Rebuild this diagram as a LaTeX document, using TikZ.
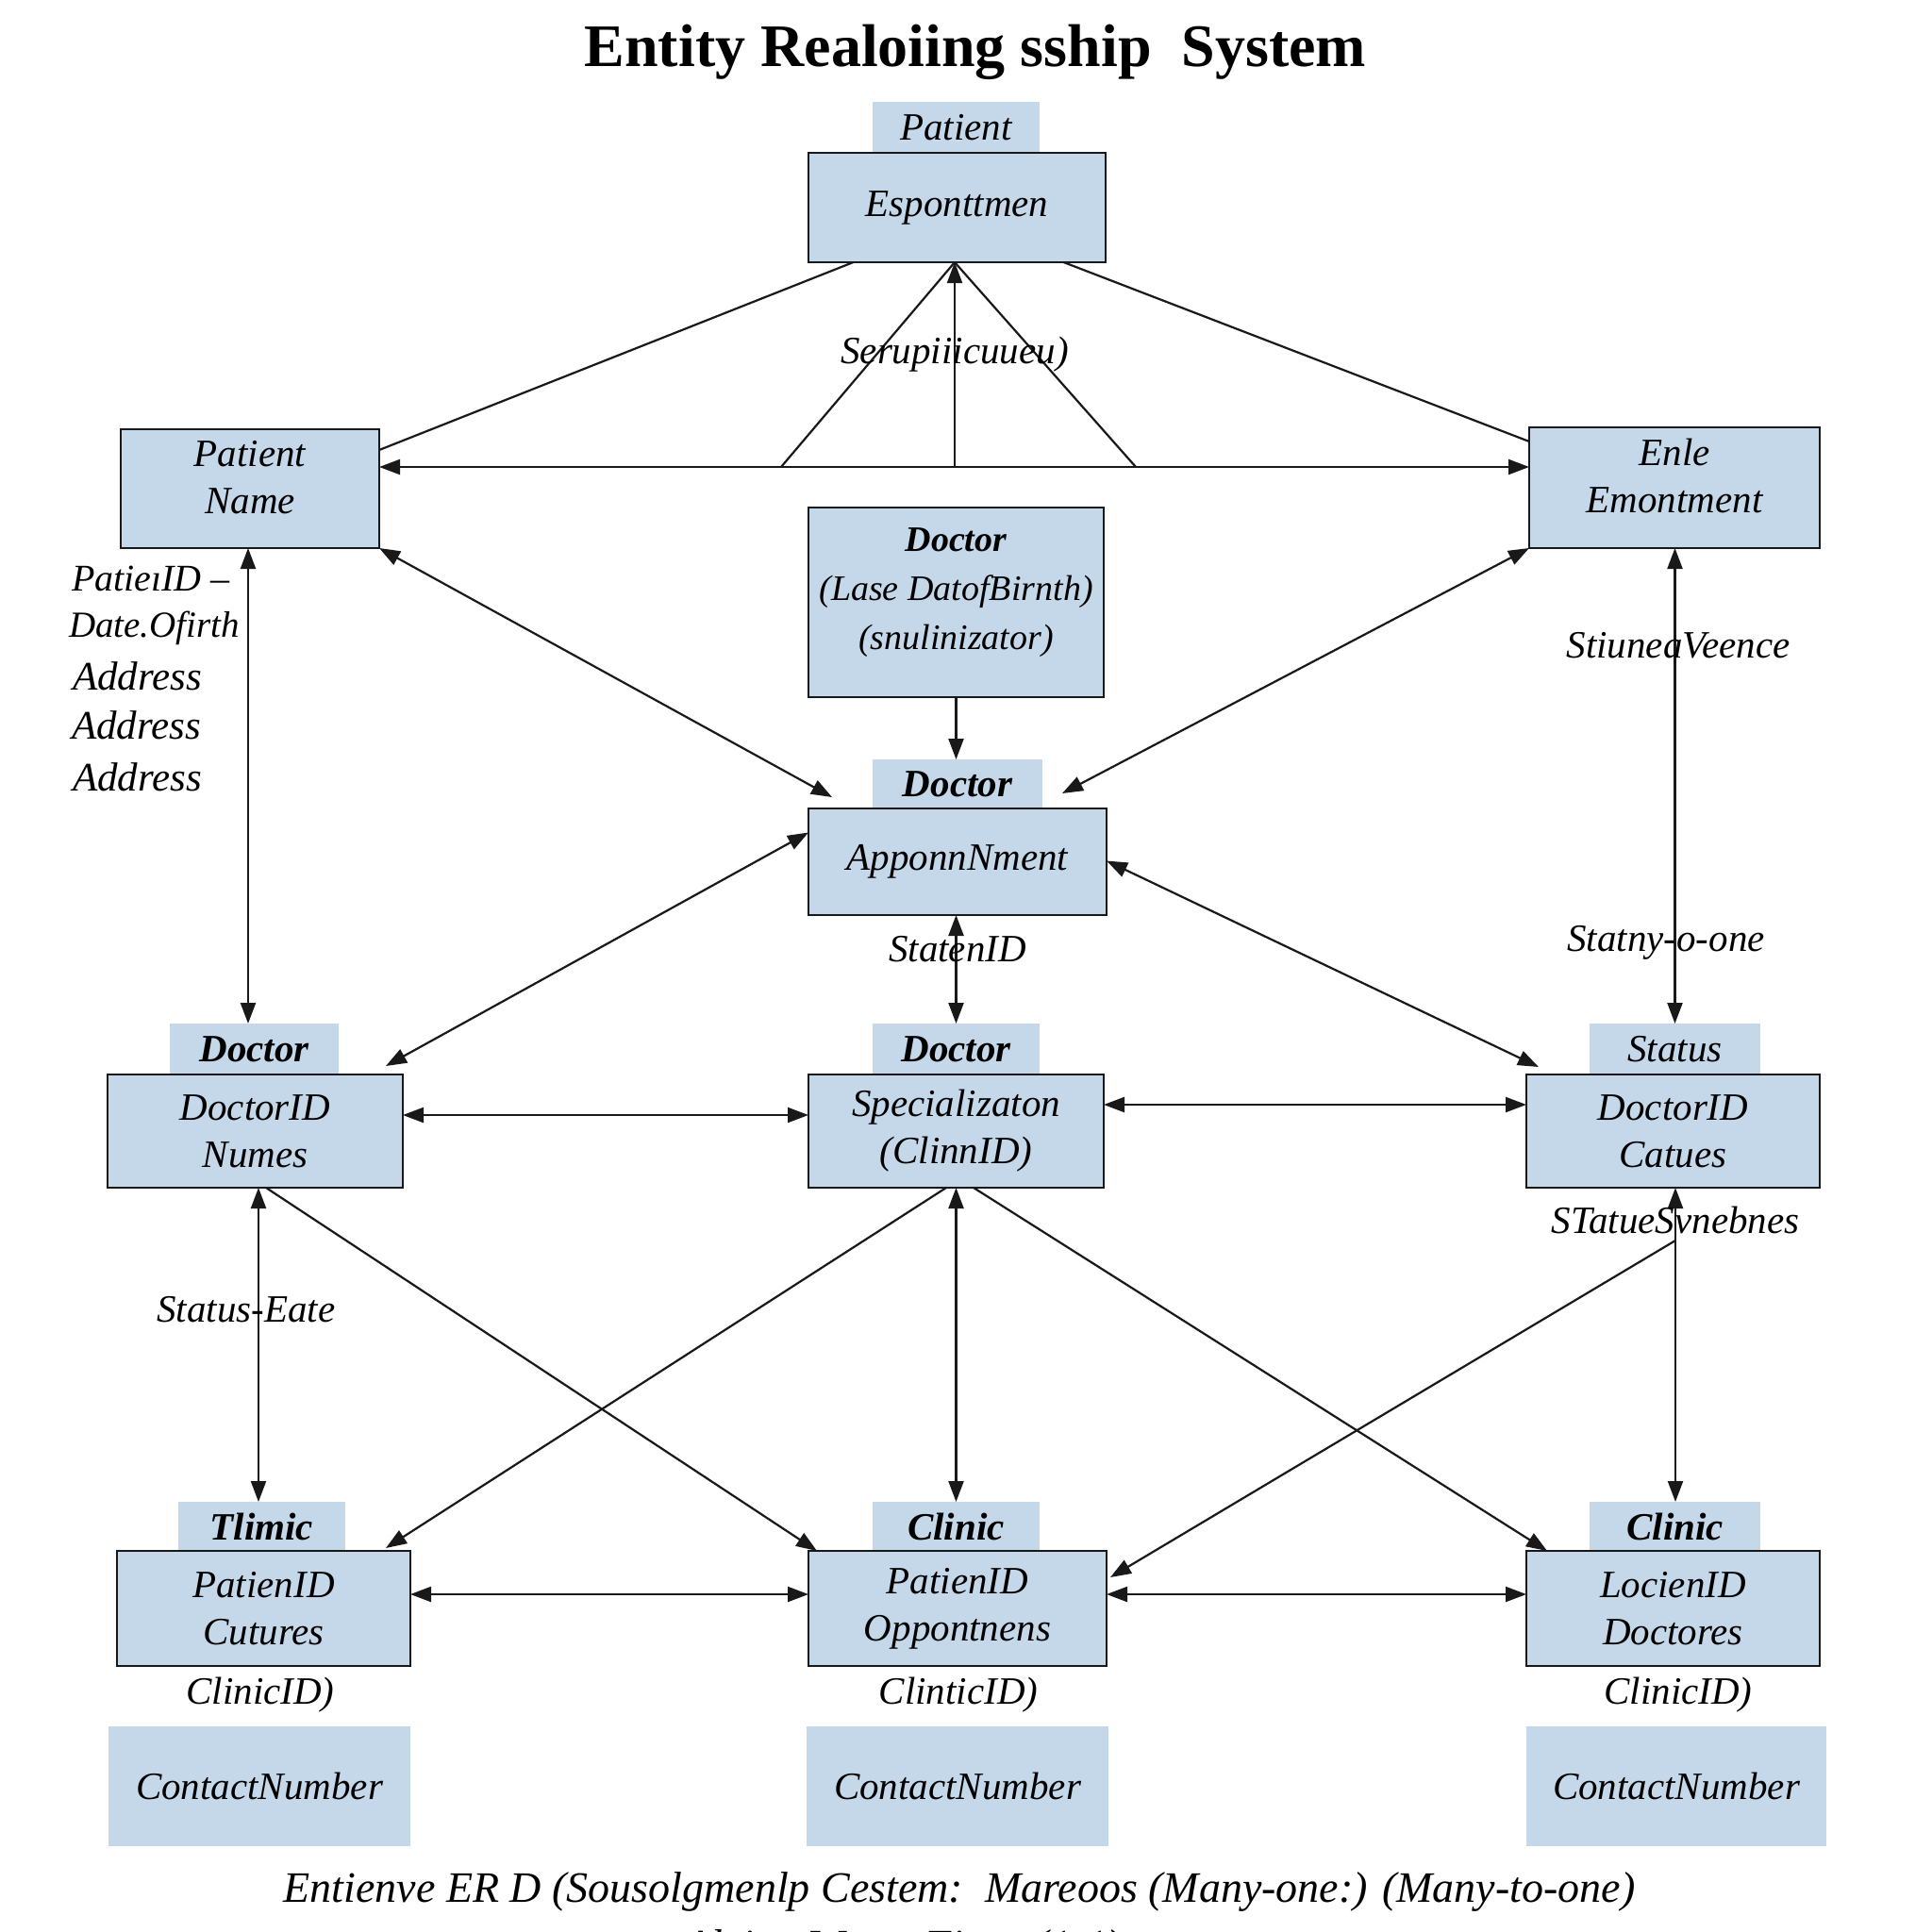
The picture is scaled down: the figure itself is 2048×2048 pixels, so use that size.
\documentclass[tikz,border=0pt]{standalone}
\usepackage{fontspec}
\setmainfont{Liberation Serif}
\usetikzlibrary{arrows.meta,calc}
\definecolor{boxblue}{RGB}{196,216,234}
\definecolor{edgecol}{RGB}{25,25,25}
\newcommand{\myit}{\fontsize{41}{50}\selectfont\itshape}
\newcommand{\uplines}[2]{\raisebox{#1}[\height][\depth]{\begin{tabular}{@{}c@{}}#2\end{tabular}}}
\begin{document}
\begin{tikzpicture}[x=1pt,y=-1pt,
  every node/.style={inner sep=0pt, outer sep=0pt},
  ent/.style={draw=edgecol, line width=2pt, fill=boxblue, align=center, font=\myit},
  tabbox/.style={fill=boxblue, align=center, font=\myit},
  lbl/.style={font=\myit, align=center},
  attr/.style={font=\fontsize{43}{50}\selectfont\itshape, anchor=west},
  con/.style={line width=2.2pt, draw=edgecol},
  bi/.style={con, {Triangle[length=22pt,width=16pt]}-{Triangle[length=22pt,width=16pt]}},
  uni/.style={con, -{Triangle[length=22pt,width=16pt]}},
]
\fill[white] (0,0) rectangle (2048,2048);
\clip (0,0) rectangle (2048,2048);

% title
\node[font=\fontsize{64}{72}\selectfont\bfseries] (title) at (1034,55) {Entity Realoiing sship\ \ System};

% tabs
\node[tabbox, minimum width=177pt, minimum height=54pt] (Atab) at (1013.5,135) {Patient};
\node[tabbox, minimum width=180pt, minimum height=52pt] (Etab) at (1015,831) {\bfseries Doctor};
\node[tabbox, minimum width=179pt, minimum height=54pt] (Ftab) at (269.5,1112) {\bfseries Doctor};
\node[tabbox, minimum width=177pt, minimum height=54pt] (Gtab) at (1013.5,1112) {\bfseries Doctor};
\node[tabbox, minimum width=181pt, minimum height=54pt] (Htab) at (1775.5,1112) {Status};
\node[tabbox, minimum width=177pt, minimum height=52pt] (Itab) at (277.5,1618) {\bfseries Tlimic};
\node[tabbox, minimum width=177pt, minimum height=52pt] (Jtab) at (1013.5,1618) {\bfseries Clinic};
\node[tabbox, minimum width=181pt, minimum height=52pt] (Ktab) at (1775.5,1618) {\bfseries Clinic};

% entity boxes
\node[ent, minimum width=315pt, minimum height=116pt] (A) at (1014.5,220) {Esponttmen};
\node[ent, minimum width=274pt, minimum height=126pt] (B) at (265,518) {\uplines{9pt}{Patient\\Name}};
\node[ent, minimum width=308pt, minimum height=128pt] (C) at (1775,517) {\uplines{9pt}{Enle\\Emontment}};
\node[ent, minimum width=313pt, minimum height=201pt, font=\fontsize{38}{52}\selectfont\itshape] (D) at (1013.5,638.5) {\uplines{12pt}{\textbf{Doctor}\\(Lase DatofBirnth)\\(snulinizator)}};
\node[ent, minimum width=316pt, minimum height=113pt] (E) at (1015,913.5) {ApponnNment};
\node[ent, minimum width=313pt, minimum height=120pt] (F) at (270.5,1199) {DoctorID\\Numes};
\node[ent, minimum width=313pt, minimum height=120pt] (G) at (1013.5,1199) {Specializaton\\(ClinnID)};
\node[ent, minimum width=311pt, minimum height=120pt] (H) at (1773.5,1199) {DoctorID\\Catues};
\node[ent, minimum width=311pt, minimum height=122pt] (I) at (279.5,1705) {PatienID\\Cutures};
\node[ent, minimum width=316pt, minimum height=122pt] (J) at (1015,1705) {PatienID\\Oppontnens};
\node[ent, minimum width=311pt, minimum height=122pt] (K) at (1773.5,1705) {LocienID\\Doctores};

% contact number boxes
\node[tabbox, minimum width=320pt, minimum height=127pt] (L1) at (275,1893.5) {ContactNumber};
\node[tabbox, minimum width=320pt, minimum height=127pt] (L2) at (1015,1893.5) {ContactNumber};
\node[tabbox, minimum width=318pt, minimum height=127pt] (L3) at (1777,1893.5) {ContactNumber};

\node[lbl] (c1) at (276,1797) {ClinicID)};
\node[lbl] (c2) at (1016,1797) {ClinticID)};
\node[lbl] (c3) at (1779,1797) {ClinicID)};

% connectors, top
\draw[con] ([xshift=-110pt]A.south) -- ([yshift=41pt]B.east);
\draw[con] ([xshift=113pt]A.south) -- ([yshift=49pt]C.west);
\draw[bi] ([yshift=23pt]B.east) -- ([yshift=22pt]C.west);
\coordinate (apex) at ([xshift=-2.5pt]A.south);
\coordinate (tL) at (828,495);
\coordinate (tR) at (1204,495);
\coordinate (tM) at (1012,495);
\draw[con] (apex) -- (tL);
\draw[con] (apex) -- (tR);
\draw[uni] (tM) -- (apex);
\draw[bi] (B.south east) -- ([shift={(25pt,12pt)}]E.north west);
\draw[bi] (C.south west) -- ([shift={(-47pt,16pt)}]E.north east);
\draw[uni] (D.south) -- ([xshift=-1.5pt]Etab.north);
\draw[bi] ([xshift=-2pt]B.south) -- ([xshift=-6.5pt]Ftab.north);
\draw[bi] ([xshift=0.5pt]C.south) -- (Htab.north);

% middle
\draw[bi] ([yshift=31pt]E.west) -- ([shift={(-18pt,9pt)}]F.north east);
\draw[bi] ([yshift=1pt]E.east) -- ([shift={(13pt,8pt)}]H.north west);
\draw[bi] ([xshift=-1.5pt]E.south) -- (Gtab.north);
\draw[bi] ([yshift=17pt]F.east) -- ([yshift=17pt]G.west);
\draw[bi] ([yshift=28pt]G.east) -- ([yshift=28pt]H.west);

% lower
\draw[bi] ([xshift=3.5pt]F.south) -- ([xshift=-3.5pt]Itab.north);
\draw[uni] ([xshift=11.5pt]F.south) -- ([xshift=9pt]J.north west);
\draw[uni] ([xshift=-10.5pt]G.south) -- ([shift={(-26pt,3pt)}]I.north east);
\draw[bi] (G.south) -- (Jtab.north);
\draw[uni] ([xshift=18.5pt]G.south) -- ([xshift=22pt]K.north west);
\draw[bi] ([xshift=2.5pt]H.south) -- ([xshift=0.5pt]Ktab.north);
\coordinate (hsplit) at ([shift={(2.5pt,-56pt)}]H.south);
\draw[uni] (hsplit) -- ([shift={(4pt,33pt)}]J.east);
\draw[bi] ([yshift=15pt]I.east) -- ([yshift=15pt]J.west);
\draw[bi] ([yshift=15pt]J.east) -- ([yshift=15pt]K.west);

% labels
\node[lbl] (l1) at (1012,376) {Serupiiicuueu)};
\node[lbl] (l2) at (1015,1006) {StatenID};
\node[lbl] (l3) at (1779,684) {StiuneaVeence};
\node[lbl] (l4) at (1766,999) {Statny-o-one};
\node[lbl] (l5) at (1776,1293) {STatueSvnebnes};
\node[lbl] (l6) at (261,1388) {Status-Eate};

% attribute list
\node[attr, font=\fontsize{40}{50}\selectfont\itshape] (p1) at (76,613) {PatieıID –};
\node[attr, font=\fontsize{39}{50}\selectfont\itshape] (p2) at (73,666) {Date.Ofirth};
\node[attr] (p3) at (77,717) {Address};
\node[attr] (p4) at (76,769) {Address};
\node[attr] (p5) at (77,824) {Address};

% caption
\node[lbl, font=\fontsize{46}{52}\selectfont\itshape] (cap) at (1017,2005) {Entienve ER D (Sousolgmenlp Cestem:\ \ Mareoos (Many-one:) (Many-to-one)};
\node[lbl, font=\fontsize{46}{52}\selectfont\itshape] (cap2) at (957,2066) {Aleing Wo-to-Fiene (1:1)};
\end{tikzpicture}
\end{document}
